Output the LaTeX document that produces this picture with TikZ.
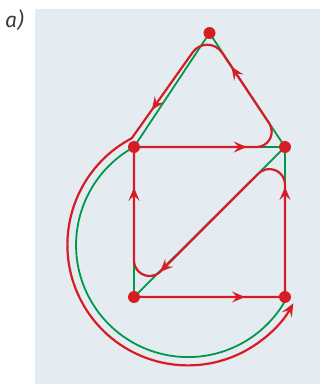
\documentclass[tikz,border=0pt]{standalone}
\usepackage{fontspec}
\newfontfamily\labelfont{Fira Sans}
\usetikzlibrary{arrows.meta}
\definecolor{bg}{RGB}{228,236,241}
\definecolor{gr}{RGB}{0,152,72}
\definecolor{rd}{RGB}{214,28,36}
\definecolor{lab}{RGB}{60,60,60}
\begin{document}
\begin{tikzpicture}[x=1pt,y=1pt,
  vert/.style={circle,inner sep=0pt,minimum size=12pt},
  gline/.style={draw=gr,line width=1.8pt},
  rline/.style={draw=rd,line width=2.2pt,line join=round},
  rhead/.style={draw=rd,line width=2.2pt,-{Stealth[length=13pt,width=11pt,inset=5pt]}}]
\useasboundingbox (0,0) rectangle (320,384);
\fill[bg] (35,0) rectangle (320,375);
\node[font=\labelfont\itshape\fontsize{21}{21}\selectfont, text=lab, anchor=base west, inner sep=0pt] (lbl) at (5,356) {a)};
% vertices
\node[vert] (T) at (209.5,351) {};
\node[vert] (L) at (134,237) {};
\node[vert] (R) at (285,237) {};
\node[vert] (BL) at (134,87) {};
\node[vert] (BR) at (285,87) {};
% green graph
\draw[gline] (T.center) -- (L.center);
\draw[gline] (T.center) -- (R.center);
\draw[gline] (L.center) -- (R.center);
\draw[gline] (L.center) -- (BL.center);
\draw[gline] (R.center) -- (BR.center);
\draw[gline] (BL.center) -- (BR.center);
\draw[gline] (BL.center) -- (R.center);
\draw[gline] (L.center) arc[start angle=118.86,end angle=331.8,radius=112];
% red Euler tour
\coordinate (K) at (131.7,245.7);
\draw[rline,-{Stealth[length=13pt,width=11pt,inset=5pt]}] (BL.center) -- (278,87)
  arc[start angle=-90,end angle=0,radius=7] -- (285,199.3)
  arc[start angle=0,end angle=135,radius=15.6] -- (160.6,112.6)
  arc[start angle=315,end angle=180,radius=15.6] -- (134,230)
  arc[start angle=180,end angle=90,radius=7] -- (256.4,237)
  arc[start angle=-90,end angle=33.7,radius=15.3] -- (222.0,331.4)
  arc[start angle=33.7,end angle=144.6,radius=17.7] -- (K)
  arc[start angle=117.8,end angle=331,radius=120.5];
% arrowheads along the tour
\draw[rhead] (245,87) ++(180:6) -- ++(0:6);
\draw[rhead] (285,197) ++(270:6) -- ++(90:6);
\draw[rhead] (160,112) ++(45:6) -- ++(225:6);
\draw[rhead] (134,196.3) ++(270:6) -- ++(90:6);
\draw[rhead] (246.7,237) ++(180:6) -- ++(0:6);
\draw[rhead] (231.5,317.3) ++(303.7:6) -- ++(123.7:6);
\draw[rhead] (151.8,274) ++(54.6:6) -- ++(234.6:6);
% dots
\foreach \v in {T,L,R,BL,BR} \fill[rd] (\v.center) circle (6pt);
\end{tikzpicture}
\end{document}
